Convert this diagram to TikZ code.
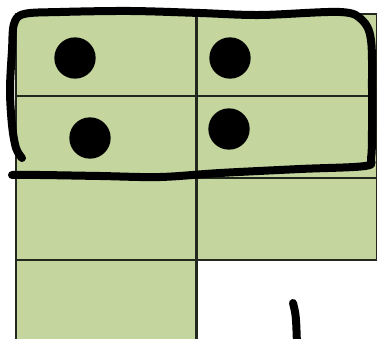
\documentclass[tikz,border=0pt]{standalone}
\usepackage{tikz}
\usetikzlibrary{calc}
\definecolor{cellgreen}{RGB}{196,213,158}
\definecolor{gridline}{RGB}{35,40,30}

\begin{document}
\begin{tikzpicture}[x=0.75pt, y=-0.75pt,
    cell/.style={fill=cellgreen, draw=gridline, line width=1.8pt},
    dot/.style={circle, fill=black, inner sep=0pt, minimum size=31pt},
    pen/.style={black, line width=6pt, line cap=round, line join=round}]
    \useasboundingbox (0,0) rectangle (377,338);
    \clip (0,0) rectangle (377,338);

    % Green grid, bottom right cell left empty
    \foreach \r in {0,1,2} {
        \foreach \c in {0,1} {
            \filldraw[cell] (16+180.5*\c, 14+82*\r) rectangle ++(180.5,82);
        }
    }
    \filldraw[cell] (16,260) rectangle ++(180.5,82);

    % Counters
    \node[dot] (d1) at (75,58) {};
    \node[dot] (d2) at (230,58) {};
    \node[dot] (d3) at (90,138) {};
    \node[dot] (d4) at (229,129) {};

    % Hand drawn loop round the two top rows
    \draw[pen] plot[smooth, tension=0.55] coordinates {
        (22,158) (16,148) (12,125) (10,90) (12,50) (14,24) (24,14)
        (60,12) (130,11) (200,13) (260,15) (340,12) (362,20)
        (371,40) (372,90) (372,130) (371,158) (365,166)
        (300,169) (220,173) (160,177) (100,176) (40,175) (12,175)};

    % Stray pen mark
    \draw[pen] (293,303) .. controls (296,315) .. (297,345);
\end{tikzpicture}
\end{document}
